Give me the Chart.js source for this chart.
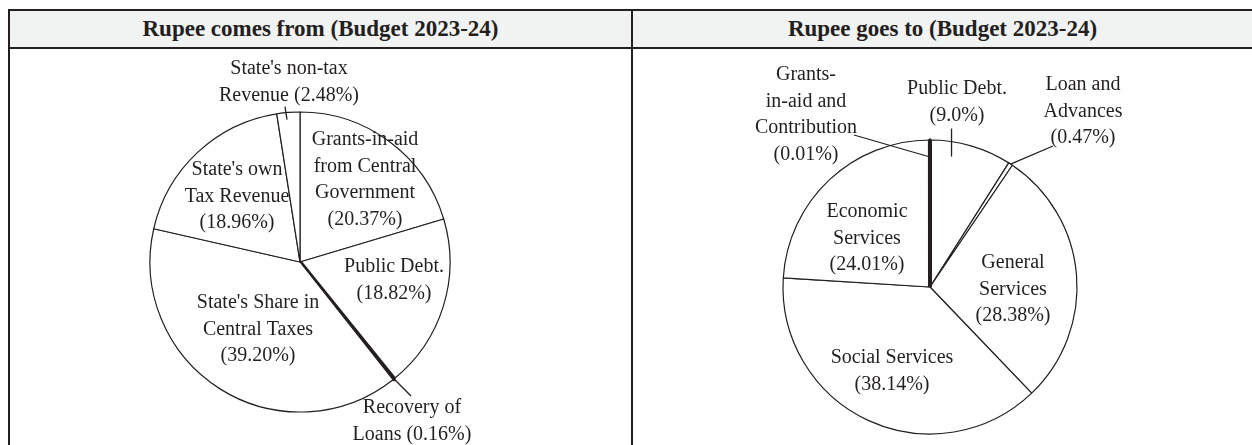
<!DOCTYPE html>
<html>
<head>
<meta charset="utf-8">
<script src="https://cdn.jsdelivr.net/npm/chart.js@4.4.0/dist/chart.umd.min.js"></script>
<style>
    html, body { margin: 0; padding: 0; background: #fff; }
    body { width: 1252px; height: 445px; position: relative; overflow: hidden; font-family: "Liberation Serif", "Times New Roman", serif; color: #231f20; }
    .head { position: absolute; top: 9px; left: 8px; right: 0; height: 36px; background: #f1f2f2; border-top: 2px solid #231f20; border-bottom: 2px solid #231f20; }
    .title { position: absolute; top: 11px; height: 36px; line-height: 36px; text-align: center; font-weight: bold; font-size: 23px; }
    .vline { position: absolute; top: 9px; bottom: 0; width: 2px; background: #231f20; }
    canvas { position: absolute; }
</style>
</head>
<body>
<div class="head"></div>
<div class="title" style="left:10px; width:621px;">Rupee comes from (Budget 2023-24)</div>
<div class="title" style="left:633px; width:619px;">Rupee goes to (Budget 2023-24)</div>
<div class="vline" style="left:8px;"></div>
<div class="vline" style="left:631px;"></div>
<canvas id="comesChart" width="621" height="396" style="left:10px; top:49px;"></canvas>
<canvas id="goesChart" width="619" height="396" style="left:633px; top:49px;"></canvas>

<script>
// Rupee comes from (clockwise from 12 o'clock)
const comesCategories = ["Grants-in-aid from Central Government", "Public Debt.", "Recovery of Loans", "State's Share in Central Taxes", "State's own Tax Revenue", "State's non-tax Revenue"];
const comesValues = [20.37, 18.82, 0.16, 39.20, 18.96, 2.48];
const comesText = [
    ["Grants-in-aid", "from Central", "Government", "(20.37%)"],
    ["Public Debt.", "(18.82%)"],
    ["Recovery of", "Loans (0.16%)"],
    ["State's Share in", "Central Taxes", "(39.20%)"],
    ["State's own", "Tax Revenue", "(18.96%)"],
    ["State's non-tax", "Revenue (2.48%)"]
];

// Rupee goes to (clockwise from 12 o'clock)
const goesCategories = ["Public Debt.", "Loan and Advances", "General Services", "Social Services", "Economic Services", "Grants-in-aid and Contribution"];
const goesValues = [9.0, 0.47, 28.38, 38.14, 24.01, 0.01];
const goesText = [
    ["Public Debt.", "(9.0%)"],
    ["Loan and", "Advances", "(0.47%)"],
    ["General", "Services", "(28.38%)"],
    ["Social Services", "(38.14%)"],
    ["Economic", "Services", "(24.01%)"],
    ["Grants-", "in-aid and", "Contribution", "(0.01%)"]
];

const INK = "#231f20";

// label placement: offset of first text line from the pie centre,
// optional leader line anchored on the slice edge
const comesLayout = [
    { dx: 65, dy: -122 },
    { dx: 94, dy: 5 },
    { dx: 112, dy: 146, leader: { t: 0.5, r: 146, to: [111, 134] } },
    { dx: -42, dy: 41 },
    { dx: -63, dy: -92 },
    { dx: -11, dy: -193, tick: { t: 0.4, a: [-1, -6], b: [1, 7] } }
];
const goesLayout = [
    { dx: 27, dy: -198, tick: { t: 0.26, a: [0, -13], b: [0, 15] } },
    { dx: 153, dy: -202, leader: { t: 0.5, r: 147, to: [123, -141] } },
    { dx: 83, dy: -24 },
    { dx: -38, dy: 71 },
    { dx: -63, dy: -75 },
    { dx: -124, dy: -212, leader: { t: 0.5, r: 130, to: [-76, -152] } }
];

const pieLabels = {
    id: "pieLabels",
    afterDatasetsDraw(chart, args, opts) {
        const ctx = chart.ctx;
        const arcs = chart.getDatasetMeta(0).data;
        ctx.save();
        ctx.font = "20px 'Liberation Serif', serif";
        ctx.fillStyle = INK;
        ctx.strokeStyle = INK;
        ctx.lineWidth = 1.3;
        ctx.textAlign = "center";
        ctx.textBaseline = "middle";
        opts.layout.forEach((lay, i) => {
            const arc = arcs[i];
            const ang = t => arc.startAngle + (arc.endAngle - arc.startAngle) * t;
            opts.text[i].forEach((line, k) => {
                ctx.fillText(line, arc.x + lay.dx, arc.y + lay.dy + k * 26.5);
            });
            if (lay.leader) {
                const a = ang(lay.leader.t);
                ctx.beginPath();
                ctx.moveTo(arc.x + Math.cos(a) * lay.leader.r, arc.y + Math.sin(a) * lay.leader.r);
                ctx.lineTo(arc.x + lay.leader.to[0], arc.y + lay.leader.to[1]);
                ctx.stroke();
            }
            if (lay.tick) {
                const a = ang(lay.tick.t);
                const px = arc.x + Math.cos(a) * arc.outerRadius;
                const py = arc.y + Math.sin(a) * arc.outerRadius;
                ctx.beginPath();
                ctx.moveTo(px + lay.tick.a[0], py + lay.tick.a[1]);
                ctx.lineTo(px + lay.tick.b[0], py + lay.tick.b[1]);
                ctx.stroke();
            }
        });
        ctx.restore();
    }
};

// tiny slices are filled black, like the printed chart
const fills = (values, limit) => values.map(v => v < limit ? INK : "#ffffff");
const widths = (values, limit) => values.map(v => v < limit ? 4 : 1.2);

function makePie(id, categories, values, text, layout, radius, padding) {
    new Chart(document.getElementById(id).getContext("2d"), {
        type: "pie",
        data: {
            labels: categories,
            datasets: [{
                data: values,
                backgroundColor: fills(values, 0.2),
                borderColor: INK,
                borderWidth: widths(values, 0.2)
            }]
        },
        options: {
            responsive: false,
            animation: false,
            radius: radius,
            layout: { padding: padding },
            plugins: {
                legend: { display: false },
                tooltip: { enabled: false },
                pieLabels: { text: text, layout: layout }
            }
        },
        plugins: [pieLabels]
    });
}

makePie("comesChart", comesCategories, comesValues, comesText, comesLayout, 150, { left: 0, right: 41, top: 30, bottom: 0 });
makePie("goesChart", goesCategories, goesValues, goesText, goesLayout, 147, { left: 0, right: 25, top: 80, bottom: 0 });
</script>
</body>
</html>
